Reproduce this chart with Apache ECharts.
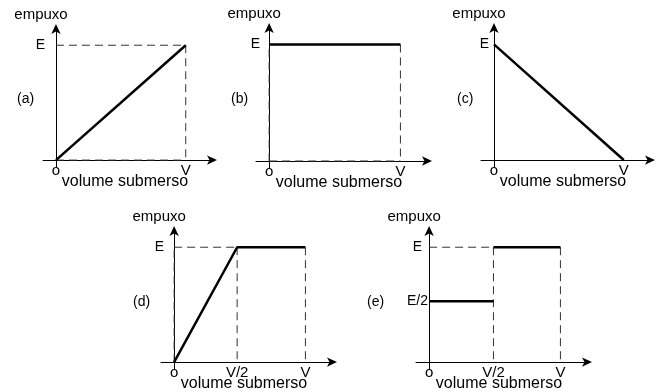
<!DOCTYPE html>
<html>
<head>
<meta charset="utf-8">
<script src="https://cdn.jsdelivr.net/npm/echarts@6/dist/echarts.min.js"></script>
<style>
    html, body { margin: 0; padding: 0; background: #fff; }
    #graficos { width: 659px; height: 392px; }
</style>
</head>
<body>
<div id="graficos"></div>
<script>
// dados dos cinco graficos (V = 1, E = 1)
var rotulos = ['(a)', '(b)', '(c)', '(d)', '(e)'];

var curvaA = [[0, 0], [1, 1]];
var curvaB = [[0, 1], [1, 1]];
var curvaC = [[0, 1], [1, 0]];
var curvaD = [[0, 0], [0.48, 1], [1, 1]];
var curvaE1 = [[0, 0.53], [0.49, 0.53]];
var curvaE2 = [[0.49, 1], [1, 1]];

// linhas tracejadas de referencia
var tracosA = [[[0, 1], [1, 1]], [[1, 1], [1, 0]], [[0, 0], [1, 0]]];
var tracosB = [[[1, 1], [1, 0]], [[0, 0], [1, 0]], [[0, 0], [0, 1]]];
var tracosC = [];
var tracosD = [[[0, 1], [0.48, 1]], [[0.48, 1], [0.48, 0]], [[1, 1], [1, 0]], [[0, 0], [0, 1]]];
var tracosE = [[[0, 1], [0.49, 1]], [[0.49, 1], [0.49, 0]], [[1, 1], [1, 0]]];

// marcas dos eixos
var marcasX = [[0, 1], [0, 1], [0, 1], [0, 0.48, 1], [0, 0.49, 1]];
var nomesX = [['o', 'V'], ['o', 'V'], ['o', 'V'], ['o', 'V/2', 'V'], ['o', 'V/2', 'V']];
var marcasY = [[1], [1], [1], [1], [0.53, 1]];
var nomesY = [['E'], ['E'], ['E'], ['E'], ['E/2', 'E']];

var curvas = [[curvaA], [curvaB], [curvaC], [curvaD], [curvaE1, curvaE2]];
var tracos = [tracosA, tracosB, tracosC, tracosD, tracosE];

window.onload = function () {
    var grafico = echarts.init(document.getElementById('graficos'));
    var fonte = 'Liberation Sans';

    // posicao de cada quadro na figura
    var quadros = [
        { left: 43, top: 28, width: 170, height: 139, rx: 17, ry: 92, my: -2, pe: 0 },
        { left: 256, top: 27, width: 172, height: 141, rx: 231, ry: 92, my: -4, pe: 0 },
        { left: 481, top: 27, width: 170, height: 140, rx: 457, ry: 92, my: -8, pe: 0 },
        { left: 161, top: 230, width: 172, height: 139, rx: 133, ry: 295, my: -3, pe: 0 },
        { left: 416, top: 230, width: 172, height: 139, rx: 367, ry: 295, my: -12, pe: 6 }
    ];

    var grids = [], xAxes = [], yAxes = [], series = [], titulos = [];

    for (var i = 0; i < quadros.length; i++) {
        var q = quadros[i];
        grids.push({ left: q.left, top: q.top, width: q.width, height: q.height, outerBoundsMode: 'none' });
        titulos.push({
            text: rotulos[i], left: q.rx, top: q.ry, padding: 0,
            textStyle: { fontFamily: fonte, fontSize: 14, fontWeight: 'normal', color: '#000' }
        });

        (function (idx) {
            xAxes.push({
                type: 'value', gridIndex: idx, min: -0.1, max: 1.21,
                name: 'volume submerso', nameLocation: 'middle', nameGap: 7, nameMoveOverlap: false,
                nameTextStyle: { fontFamily: fonte, fontSize: 16, color: '#000', padding: [0, 6, 0, 0] },
                axisLine: { onZero: true, symbol: ['none', 'arrow'], symbolSize: [7, 10], symbolOffset: [0, 4],
                    lineStyle: { color: '#000', width: 1 } },
                axisTick: { show: false },
                splitLine: { show: false },
                axisLabel: {
                    customValues: marcasX[idx], margin: -4, hideOverlap: false,
                    fontFamily: fonte, fontSize: 15, color: '#000',
                    formatter: function (v) {
                        return nomesX[idx][marcasX[idx].indexOf(v)];
                    }
                }
            });
            yAxes.push({
                type: 'value', gridIndex: idx, min: -0.06, max: 1.15,
                name: 'empuxo', nameLocation: 'end', nameGap: 6, nameMoveOverlap: false,
                nameTextStyle: { fontFamily: fonte, fontSize: 15, color: '#000', padding: [0, 30, 0, 0] },
                axisLine: { onZero: true, symbol: ['none', 'arrow'], symbolSize: [7, 10], symbolOffset: [0, 4],
                    lineStyle: { color: '#000', width: 1 } },
                axisTick: { show: false },
                splitLine: { show: false },
                axisLabel: {
                    customValues: marcasY[idx], margin: quadros[idx].my, hideOverlap: false,
                    fontFamily: fonte, fontSize: 14, color: '#000',
                    formatter: function (v) {
                        var t = nomesY[idx][marcasY[idx].indexOf(v)];
                        return t === 'E' ? '{e|E}' : t;
                    },
                    rich: { e: { fontFamily: fonte, fontSize: 14, color: '#000', padding: [0, quadros[idx].pe, 0, 0] } }
                }
            });
        })(i);

        for (var j = 0; j < tracos[i].length; j++) {
            series.push({
                type: 'line', xAxisIndex: i, yAxisIndex: i, data: tracos[i][j],
                symbol: 'none', silent: true, z: 2,
                lineStyle: { color: '#333', width: 1, type: [8, 5] }
            });
        }
        for (var c = 0; c < curvas[i].length; c++) {
            series.push({
                type: 'line', xAxisIndex: i, yAxisIndex: i, data: curvas[i][c],
                symbol: 'none', silent: true, z: 3,
                lineStyle: { color: '#000', width: 2.5 }
            });
        }
    }

    var opcoes = {
        animation: false,
        backgroundColor: '#fff',
        title: titulos,
        grid: grids,
        xAxis: xAxes,
        yAxis: yAxes,
        series: series
    };

    grafico.setOption(opcoes);
};
</script>
</body>
</html>
